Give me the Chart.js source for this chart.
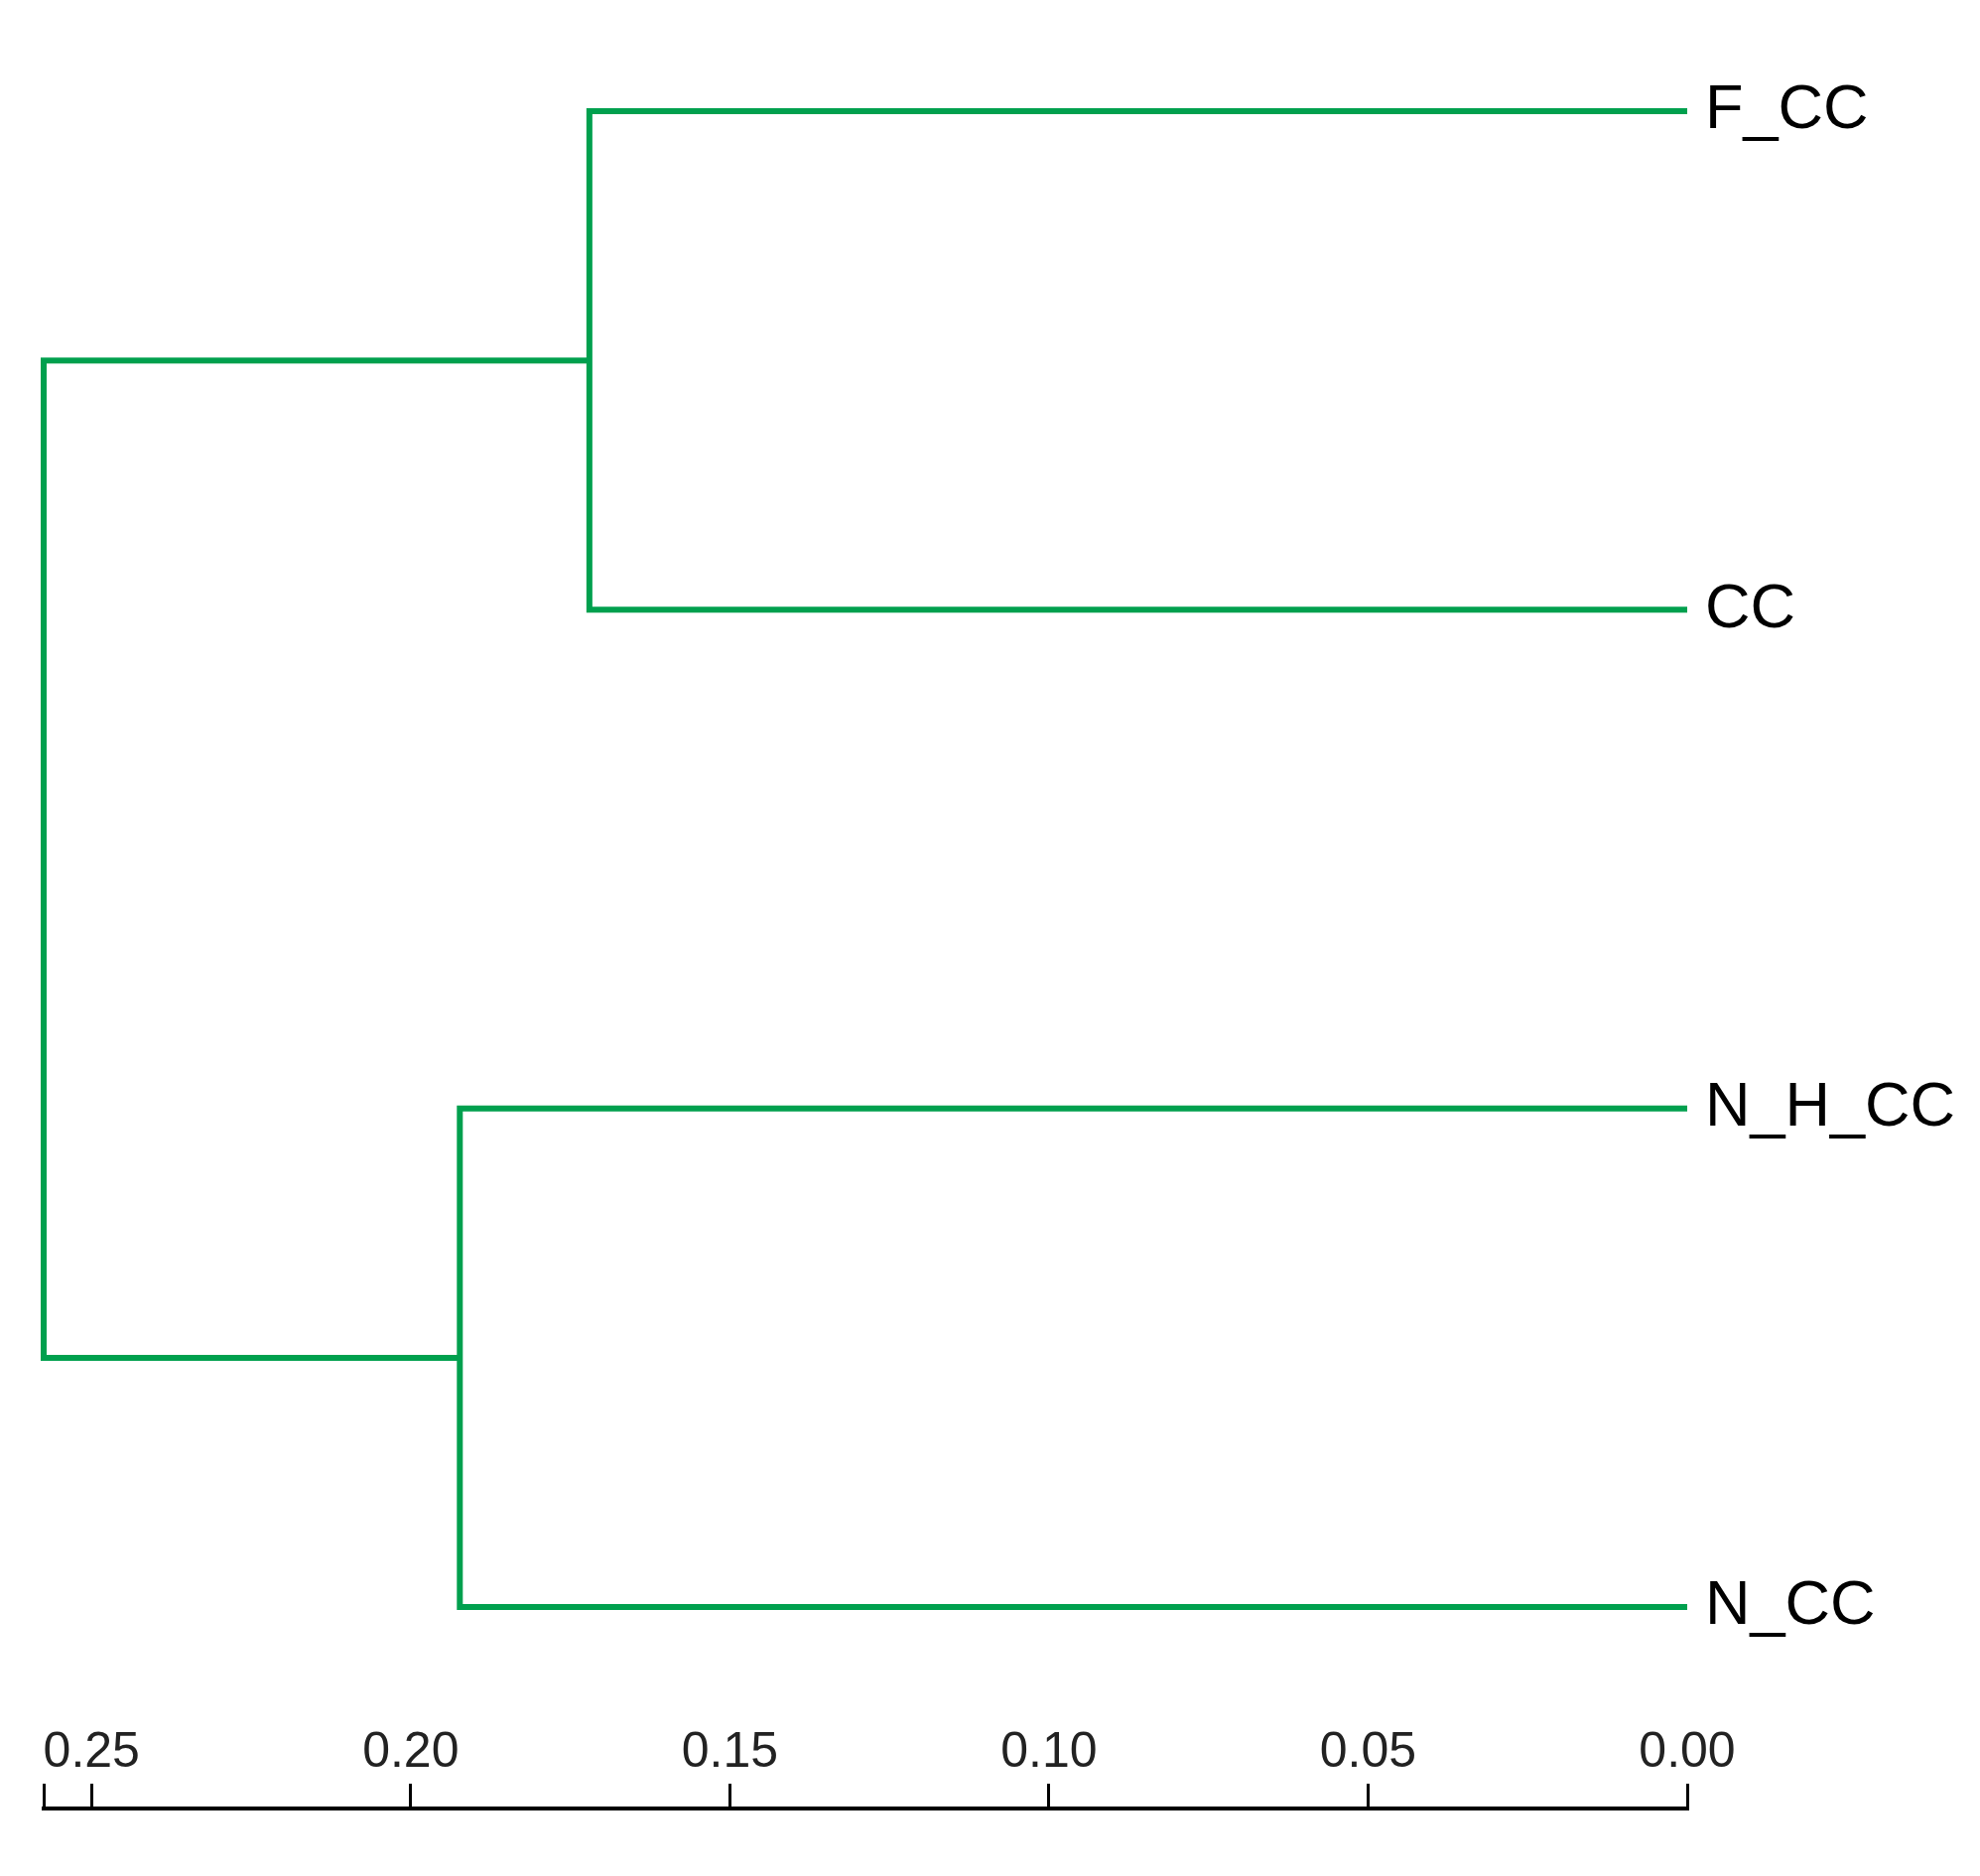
<!DOCTYPE html>
<html>
<head>
<meta charset="utf-8">
<script src="https://cdn.jsdelivr.net/npm/chart.js@4/dist/chart.umd.min.js"></script>
<style>
  html, body { margin: 0; padding: 0; background: #ffffff; }
  #wrap { width: 1995px; height: 1890px; }
</style>
</head>
<body>
<div id="wrap"><canvas id="c" width="1995" height="1890"></canvas></div>
<script>
// ---- data ----
const leaves = ['F_CC', 'CC', 'N_H_CC', 'N_CC'];          // top to bottom
const mergeLeft = [0, 2, 4];                                // node ids (0..3 leaves, 4.. merges)
const mergeRight = [1, 3, 5];
const mergeHeight = [0.172, 0.1923, 0.2575];
const tickValues = [0.25, 0.20, 0.15, 0.10, 0.05, 0.00];
const tickLabels = ['0.25', '0.20', '0.15', '0.10', '0.05', '0.00'];

// ---- build dendrogram segments ----
const nodeY = leaves.map((_, i) => i);
const nodeH = leaves.map(() => 0);
const datasets = [];
for (let m = 0; m < mergeHeight.length; m++) {
  const a = mergeLeft[m], b = mergeRight[m], h = mergeHeight[m];
  datasets.push({
    data: [
      { x: nodeH[a], y: nodeY[a] },
      { x: h, y: nodeY[a] },
      { x: h, y: nodeY[b] },
      { x: nodeH[b], y: nodeY[b] }
    ]
  });
  nodeY.push((nodeY[a] + nodeY[b]) / 2);
  nodeH.push(h);
}
const rootHeight = mergeHeight[mergeHeight.length - 1];

const green = '#00a04e';
datasets.forEach(d => {
  d.showLine = true;
  d.borderColor = green;
  d.backgroundColor = green;
  d.borderWidth = 6;
  d.pointRadius = 0;
  d.borderJoinStyle = 'miter';
  d.borderCapStyle = 'butt';
  d.clip = false;
});

new Chart(document.getElementById('c'), {
  type: 'scatter',
  data: { datasets },
  options: {
    responsive: false,
    devicePixelRatio: 1,
    animation: false,
    layout: { autoPadding: false, padding: { left: 44, right: 0, top: 0, bottom: 0 } },
    plugins: { legend: { display: false }, tooltip: { enabled: false } },
    scales: {
      x: {
        type: 'linear',
        position: 'bottom',
        reverse: true,
        min: 0,
        max: rootHeight,
        afterBuildTicks: s => {
          s.ticks = [{ value: rootHeight }].concat(tickValues.map(v => ({ value: v })));
        },
        afterFit: s => {
          s.height = 68;
          s.paddingLeft = 0; s.paddingRight = 0; s.paddingTop = 0; s.paddingBottom = 0;
        },
        ticks: {
          autoSkip: false,
          mirror: true,
          maxRotation: 0,
          padding: 26,
          color: '#222222',
          font: { family: '"Liberation Sans", Arial, sans-serif', size: 50 },
          callback: (v, i) => (i === 0 ? '' : tickLabels[i - 1])
        },
        grid: {
          drawOnChartArea: false,
          drawTicks: true,
          tickLength: -25,
          tickWidth: 3,
          tickColor: '#000000'
        },
        border: { display: true, color: '#000000', width: 4 }
      },
      y: {
        type: 'linear',
        position: 'right',
        reverse: true,
        min: -0.223,
        max: 3.404,
        afterBuildTicks: s => { s.ticks = leaves.map((_, i) => ({ value: i })); },
        afterFit: s => {
          s.width = 295;
          s.paddingLeft = 0; s.paddingRight = 0; s.paddingTop = 0; s.paddingBottom = 0;
        },
        ticks: {
          autoSkip: false,
          padding: 18,
          color: '#000000',
          font: { family: '"Liberation Sans", Arial, sans-serif', size: 63 },
          callback: (v, i) => leaves[i]
        },
        grid: { display: false, drawTicks: false },
        border: { display: false }
      }
    }
  }
});
</script>
</body>
</html>
